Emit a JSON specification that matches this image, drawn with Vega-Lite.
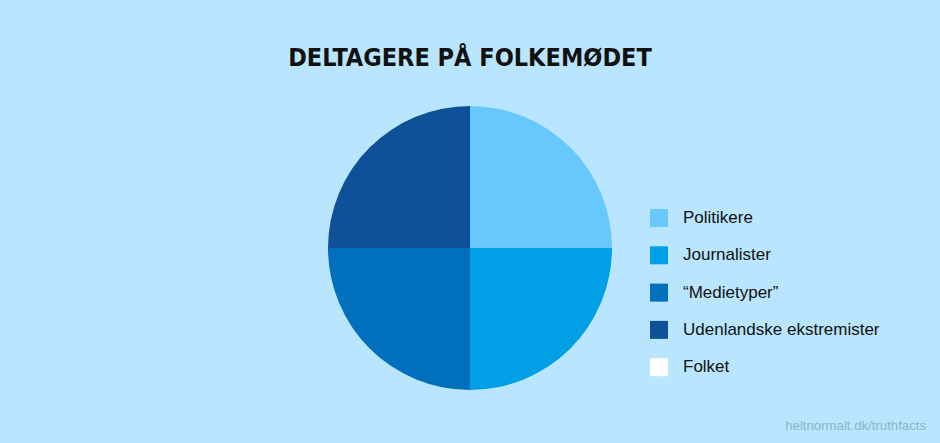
{
  "$schema": "https://vega.github.io/schema/vega-lite/v6.json",
  "autosize": "none",
  "width": 940,
  "height": 390,
  "padding": {"top": 53, "left": 0, "right": 0, "bottom": 0},
  "background": "#b9e6fe",
  "title": {
    "text": "DELTAGERE PÅ FOLKEMØDET",
    "font": "DejaVu Sans Condensed, Liberation Sans, sans-serif",
    "fontWeight": "bold",
    "fontSize": 25,
    "color": "#111111",
    "anchor": "middle",
    "offset": -17.5
  },
  "config": {"view": {"stroke": null}},
  "layer": [
    {
      "data": {
        "values": [
          {"gruppe": "Politikere", "andel": 25, "nr": 1},
          {"gruppe": "Journalister", "andel": 25, "nr": 2},
          {"gruppe": "“Medietyper”", "andel": 25, "nr": 3},
          {"gruppe": "Udenlandske ekstremister", "andel": 25, "nr": 4},
          {"gruppe": "Folket", "andel": 0, "nr": 5}
        ]
      },
      "mark": {"type": "arc", "outerRadius": 142},
      "encoding": {
        "theta": {"field": "andel", "type": "quantitative", "stack": true},
        "order": {"field": "nr", "type": "quantitative"},
        "color": {
          "field": "gruppe",
          "type": "nominal",
          "scale": {
            "domain": ["Politikere", "Journalister", "“Medietyper”", "Udenlandske ekstremister", "Folket"],
            "range": ["#66c8fc", "#009fe6", "#0070bc", "#0f5199", "#ffffff"]
          },
          "legend": {
            "title": null,
            "orient": "none",
            "legendX": 650,
            "legendY": 156,
            "symbolType": "square",
            "symbolSize": 324,
            "symbolStrokeWidth": 0,
            "symbolOpacity": 1,
            "labelFont": "Liberation Sans",
            "labelFontSize": 17,
            "labelColor": "#111111",
            "labelOffset": 15,
            "rowPadding": 19.3,
            "labelLimit": 400
          }
        }
      }
    },
    {
      "data": {"values": [{"kilde": "heltnormalt.dk/truthfacts"}]},
      "mark": {
        "type": "text",
        "align": "right",
        "baseline": "alphabetic",
        "x": {"expr": "width - 14"},
        "y": {"expr": "height - 13"},
        "font": "Liberation Sans",
        "fontSize": 13.2,
        "color": "#90b4c9"
      },
      "encoding": {"text": {"field": "kilde", "type": "nominal"}}
    }
  ]
}
